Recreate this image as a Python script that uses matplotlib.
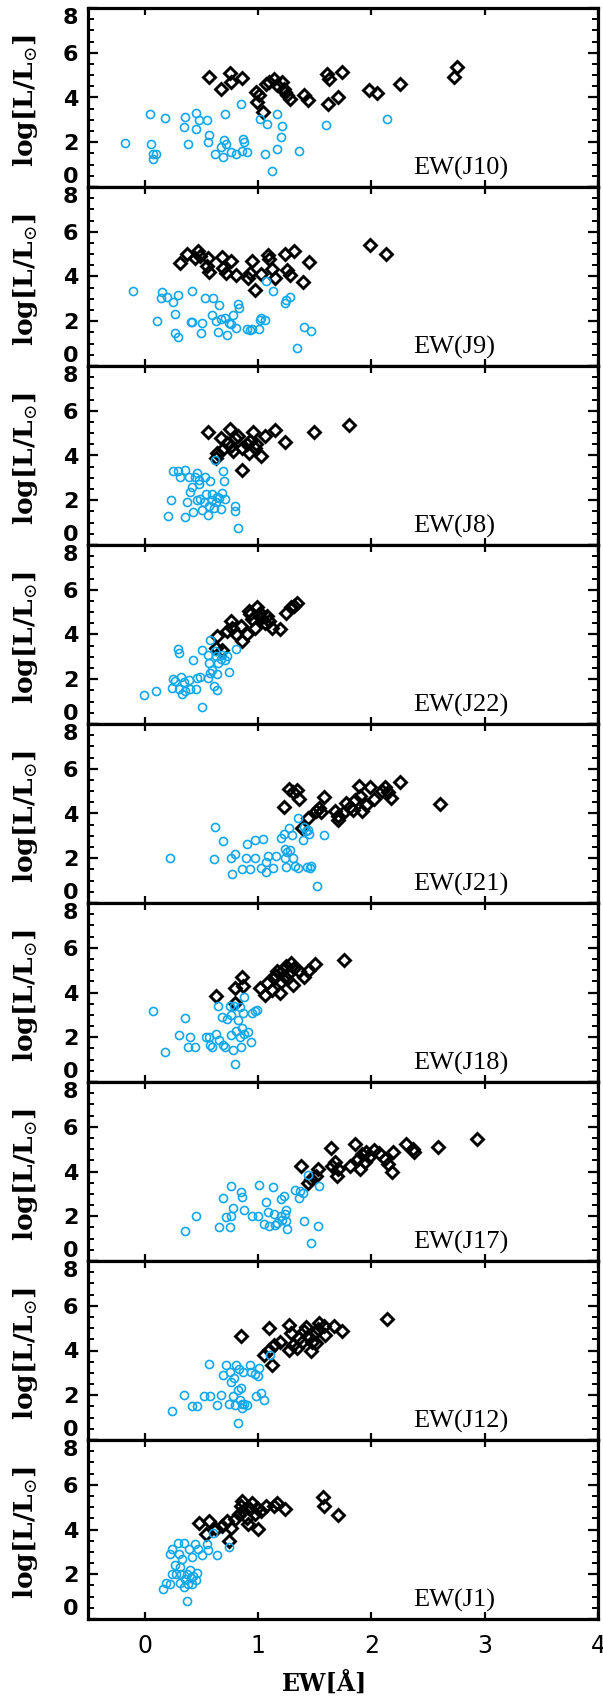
import matplotlib
matplotlib.use("Agg")
import matplotlib.pyplot as plt
from matplotlib.ticker import AutoMinorLocator

plt.rcParams["mathtext.fontset"] = "dejavuserif"

# panel labels, top to bottom
panel_labels = ["EW(J10)", "EW(J9)", "EW(J8)", "EW(J22)", "EW(J21)",
                "EW(J18)", "EW(J17)", "EW(J12)", "EW(J1)"]

# --- J10 ---
j10_hi_x = [0.57, 0.67, 0.75, 0.76, 0.86, 0.98, 0.99, 1.01, 1.04, 1.07, 1.10, 1.14, 1.17, 1.21, 1.23,
            1.24, 1.26, 1.28, 1.41, 1.44, 1.61, 1.63, 1.62, 1.71, 1.74, 1.98, 2.05, 2.25, 2.73, 2.76]
j10_hi_y = [4.92, 4.40, 5.11, 4.69, 4.87, 4.25, 3.80, 4.10, 3.35, 4.62, 4.69, 4.81, 4.55, 4.69, 4.40,
            4.25, 4.10, 3.95, 4.10, 3.87, 5.07, 4.84, 3.73, 4.02, 5.14, 4.32, 4.22, 4.62, 4.92, 5.37]
j10_lo_x = [-0.17, 0.05, 0.06, 0.07, 0.07, 0.10, 0.18, 0.36, 0.35, 0.38, 0.45, 0.45, 0.48, 0.55, 0.57,
            0.56, 0.62, 0.67, 0.69, 0.70, 0.71, 0.72, 0.76, 0.81, 0.85, 0.86, 0.87, 0.88, 0.90, 1.02,
            1.06, 1.08, 1.12, 1.17, 1.17, 1.20, 1.21, 1.36, 1.60, 2.14]
j10_lo_y = [1.98, 3.25, 1.94, 1.49, 1.27, 1.46, 3.08, 3.13, 2.68, 1.94, 3.32, 2.58, 2.98, 2.98, 2.31,
            2.01, 1.49, 1.79, 1.34, 2.09, 3.28, 1.94, 1.56, 1.49, 3.73, 1.59, 2.13, 2.01, 1.56, 3.03,
            1.49, 2.83, 0.72, 3.28, 1.71, 2.24, 2.73, 1.61, 2.76, 3.06]

# --- J9 ---
j9_hi_x = [0.31, 0.37, 0.44, 0.47, 0.49, 0.56, 0.55, 0.57, 0.68, 0.69, 0.72, 0.76, 0.81, 0.91, 0.93,
           0.95, 0.97, 1.03, 1.09, 1.10, 1.12, 1.15, 1.24, 1.26, 1.28, 1.32, 1.40, 1.45, 1.99, 2.13]
j9_hi_y = [4.62, 4.99, 4.84, 5.14, 4.92, 4.81, 4.47, 4.22, 4.87, 4.37, 4.17, 4.69, 4.05, 3.95, 4.17,
           4.69, 3.38, 4.10, 4.96, 4.77, 4.32, 3.95, 5.02, 4.28, 4.05, 5.14, 3.77, 4.65, 5.41, 5.02]
j9_lo_x = [-0.10, 0.11, 0.15, 0.14, 0.20, 0.25, 0.27, 0.29, 0.27, 0.29, 0.41, 0.42, 0.42, 0.50, 0.51,
           0.53, 0.59, 0.60, 0.63, 0.65, 0.66, 0.67, 0.71, 0.73, 0.74, 0.76, 0.78, 0.81, 0.82, 0.83,
           0.90, 0.93, 0.95, 1.01, 1.02, 1.03, 1.06, 1.07, 1.13, 1.24, 1.25, 1.28, 1.34, 1.41, 1.47]
j9_lo_y = [3.35, 2.01, 3.31, 3.03, 3.10, 2.88, 2.34, 3.17, 1.49, 1.30, 1.98, 3.35, 1.98, 1.49, 1.94,
           3.03, 2.27, 3.06, 2.01, 1.54, 2.73, 2.12, 2.16, 1.39, 1.94, 1.86, 2.27, 1.68, 2.79, 2.61,
           1.64, 1.61, 1.64, 1.64, 2.04, 2.16, 2.04, 3.80, 3.35, 2.83, 2.94, 3.08, 0.79, 1.76, 1.56]

# --- J8 ---
j8_hi_x = [0.56, 0.63, 0.64, 0.67, 0.69, 0.73, 0.75, 0.76, 0.78, 0.80, 0.82, 0.86, 0.86, 0.90, 0.92,
           0.93, 0.96, 0.97, 0.98, 1.03, 1.06, 1.15, 1.24, 1.49, 1.80]
j8_hi_y = [5.03, 3.89, 4.12, 4.77, 4.27, 4.57, 5.18, 4.42, 4.20, 4.80, 4.88, 3.37, 4.35, 4.50, 4.12,
           4.65, 5.03, 4.35, 4.50, 3.97, 4.88, 5.15, 4.62, 5.03, 5.37]
j8_lo_x = [0.21, 0.23, 0.25, 0.29, 0.31, 0.36, 0.36, 0.37, 0.39, 0.40, 0.42, 0.43, 0.44, 0.46, 0.46,
           0.48, 0.48, 0.49, 0.51, 0.52, 0.53, 0.54, 0.56, 0.57, 0.58, 0.59, 0.59, 0.61, 0.62, 0.63,
           0.64, 0.66, 0.67, 0.68, 0.69, 0.70, 0.71, 0.80, 0.80, 0.82]
j8_lo_y = [1.28, 2.01, 3.32, 3.32, 3.06, 1.25, 3.37, 1.93, 3.02, 2.35, 2.61, 1.48, 3.06, 2.01, 3.22,
           2.72, 2.91, 2.05, 1.55, 1.93, 3.06, 2.26, 1.33, 1.75, 2.84, 2.01, 2.26, 1.66, 3.79, 1.93,
           2.16, 2.08, 1.63, 2.31, 3.32, 2.84, 2.05, 1.75, 1.52, 0.75]

# --- J22 ---
j22_hi_x = [0.63, 0.64, 0.68, 0.73, 0.76, 0.77, 0.81, 0.85, 0.86, 0.90, 0.92, 0.93, 0.95, 0.97, 0.99,
            1.02, 1.03, 1.06, 1.08, 1.10, 1.12, 1.19, 1.25, 1.29, 1.32, 1.34]
j22_hi_y = [3.40, 3.92, 3.32, 4.15, 4.60, 4.27, 4.03, 4.38, 3.70, 4.00, 5.06, 4.91, 4.68, 4.30, 5.21,
            4.98, 4.75, 4.53, 4.83, 4.60, 4.27, 4.23, 4.98, 5.21, 5.28, 5.43]
j22_lo_x = [-0.01, 0.10, 0.24, 0.25, 0.27, 0.29, 0.30, 0.30, 0.32, 0.33, 0.35, 0.36, 0.39, 0.40, 0.43,
            0.45, 0.46, 0.49, 0.51, 0.51, 0.56, 0.56, 0.57, 0.58, 0.58, 0.59, 0.61, 0.63, 0.64, 0.64,
            0.65, 0.67, 0.68, 0.71, 0.73, 0.74, 0.81, 0.62]
j22_lo_y = [1.28, 1.48, 1.63, 2.01, 1.92, 3.37, 3.17, 1.58, 2.11, 1.36, 1.89, 1.48, 1.96, 1.58, 2.87,
            1.58, 2.04, 2.11, 0.75, 3.32, 3.09, 2.04, 2.72, 2.26, 3.77, 2.42, 1.71, 3.02, 1.51, 2.23,
            2.72, 2.91, 3.09, 2.87, 3.02, 2.34, 3.37, 3.25]

# --- J21 ---
j21_hi_x = [1.23, 1.27, 1.31, 1.36, 1.34, 1.39, 1.44, 1.51, 1.54, 1.56, 1.58, 1.68, 1.71, 1.71, 1.75,
            1.78, 1.81, 1.84, 1.86, 1.89, 1.90, 1.92, 1.95, 1.99, 2.02, 2.09, 2.12, 2.15, 2.17, 2.25, 2.61]
j21_hi_y = [4.29, 5.09, 4.94, 4.64, 5.05, 3.36, 3.78, 4.11, 4.26, 4.08, 4.74, 4.11, 3.89, 3.73, 4.04,
            4.49, 4.29, 4.14, 4.59, 5.24, 4.79, 4.11, 4.38, 5.17, 4.64, 5.02, 5.17, 4.94, 4.71, 5.42, 4.41]
j21_lo_x = [0.22, 0.61, 0.62, 0.69, 0.76, 0.77, 0.80, 0.86, 0.89, 0.90, 0.93, 0.97, 0.97, 1.03, 1.04,
            1.07, 1.07, 1.09, 1.13, 1.16, 1.20, 1.23, 1.24, 1.24, 1.25, 1.26, 1.27, 1.28, 1.30, 1.31,
            1.33, 1.35, 1.35, 1.40, 1.41, 1.42, 1.44, 1.45, 1.46, 1.47, 1.52, 1.58, 1.43]
j21_lo_y = [2.03, 1.97, 3.39, 2.76, 2.00, 1.30, 2.18, 1.52, 2.00, 2.64, 1.52, 2.00, 2.83, 1.58, 2.88,
            1.85, 1.40, 2.12, 1.55, 2.08, 2.91, 3.09, 2.00, 2.42, 1.63, 2.30, 3.36, 2.38, 3.06, 2.03,
            1.67, 3.81, 1.55, 2.83, 3.39, 3.21, 3.28, 3.09, 1.55, 1.67, 0.77, 3.03, 1.63]

# --- J18 ---
j18_hi_x = [0.63, 0.80, 0.80, 0.86, 0.87, 1.02, 1.06, 1.08, 1.12, 1.14, 1.15, 1.17, 1.19, 1.20, 1.22,
            1.24, 1.25, 1.27, 1.29, 1.31, 1.32, 1.36, 1.41, 1.44, 1.50, 1.76]
j18_hi_y = [3.84, 3.51, 4.19, 4.71, 4.29, 4.19, 3.89, 4.41, 4.11, 4.64, 4.79, 4.94, 3.96, 4.49, 5.02,
            4.71, 5.17, 4.86, 5.32, 4.34, 5.09, 4.94, 4.71, 4.98, 5.27, 5.44]
j18_lo_x = [0.07, 0.18, 0.30, 0.36, 0.38, 0.40, 0.44, 0.54, 0.57, 0.58, 0.59, 0.63, 0.65, 0.66, 0.68,
            0.69, 0.71, 0.73, 0.75, 0.76, 0.76, 0.78, 0.79, 0.80, 0.81, 0.82, 0.84, 0.84, 0.85, 0.86,
            0.87, 0.88, 0.88, 0.91, 0.94, 0.95, 0.97, 0.99]
j18_lo_y = [3.16, 1.36, 2.08, 2.86, 1.55, 2.03, 1.55, 2.00, 2.03, 1.67, 1.55, 2.15, 3.39, 1.88, 2.91,
            1.67, 1.55, 2.83, 3.39, 2.12, 2.98, 1.43, 3.39, 0.80, 2.30, 2.79, 3.36, 2.00, 1.58, 2.41,
            3.09, 3.81, 2.15, 2.23, 1.81, 3.09, 3.18, 3.24]

# --- J17 ---
j17_hi_x = [1.38, 1.44, 1.47, 1.53, 1.51, 1.64, 1.65, 1.68, 1.70, 1.71, 1.81, 1.86, 1.88, 1.90, 1.92,
            1.94, 1.95, 1.98, 2.02, 2.07, 2.12, 2.15, 2.18, 2.19, 2.31, 2.37, 2.38, 2.59, 2.93]
j17_hi_y = [4.26, 3.50, 3.65, 4.11, 3.80, 5.04, 4.26, 4.41, 3.80, 4.11, 4.26, 5.23, 4.56, 4.11, 4.78,
            4.41, 4.86, 4.66, 4.98, 4.81, 4.56, 4.33, 4.00, 4.86, 5.23, 5.01, 4.86, 5.08, 5.46]
j17_lo_x = [0.36, 0.45, 0.66, 0.69, 0.72, 0.76, 0.75, 0.76, 0.78, 0.85, 0.86, 0.88, 0.95, 1.00, 1.01,
            1.05, 1.07, 1.09, 1.10, 1.13, 1.14, 1.15, 1.17, 1.20, 1.20, 1.21, 1.23, 1.24, 1.25, 1.25,
            1.26, 1.33, 1.36, 1.37, 1.40, 1.41, 1.44, 1.47, 1.53, 1.54]
j17_lo_y = [1.32, 2.03, 1.52, 2.83, 1.95, 2.00, 1.52, 3.35, 2.38, 3.10, 2.87, 2.30, 2.03, 2.00, 3.40,
            1.65, 2.65, 2.20, 1.55, 3.31, 2.11, 1.59, 1.70, 2.75, 2.00, 1.85, 2.90, 2.08, 1.77, 2.30,
            1.43, 3.16, 2.83, 3.13, 3.05, 1.77, 3.83, 0.80, 1.58, 3.35]

# --- J12 ---
j12_hi_x = [0.85, 1.05, 1.10, 1.12, 1.10, 1.14, 1.19, 1.27, 1.27, 1.29, 1.31, 1.34, 1.36, 1.39, 1.41,
            1.42, 1.44, 1.47, 1.48, 1.50, 1.53, 1.54, 1.58, 1.59, 1.67, 1.74, 2.14, 1.51]
j12_hi_y = [4.63, 3.81, 5.00, 3.36, 4.03, 4.25, 4.40, 5.15, 4.03, 4.78, 4.25, 4.13, 4.55, 4.40, 4.85,
            5.03, 4.63, 3.96, 4.40, 4.78, 4.97, 5.23, 5.08, 4.70, 5.08, 4.88, 5.42, 4.33]
j12_lo_x = [0.24, 0.35, 0.42, 0.46, 0.52, 0.58, 0.57, 0.64, 0.67, 0.69, 0.72, 0.74, 0.75, 0.76, 0.78,
            0.79, 0.80, 0.81, 0.82, 0.82, 0.83, 0.84, 0.85, 0.86, 0.86, 0.87, 0.88, 0.90, 0.93, 0.94,
            0.97, 0.98, 1.00, 1.01, 1.03, 1.05, 1.11]
j12_lo_y = [1.30, 2.01, 1.51, 1.51, 1.98, 1.98, 3.39, 1.58, 2.01, 2.91, 3.33, 1.63, 3.06, 2.61, 1.98,
            2.76, 1.56, 3.33, 0.76, 2.23, 3.18, 1.78, 2.31, 1.41, 1.60, 3.03, 1.63, 1.56, 3.36, 3.06,
            2.94, 1.98, 2.84, 3.21, 2.08, 1.78, 3.81]

# --- J1 ---
j1_hi_x = [0.48, 0.54, 0.57, 0.63, 0.68, 0.73, 0.74, 0.76, 0.80, 0.83, 0.85, 0.86, 0.87, 0.90, 0.91,
           0.93, 0.95, 0.97, 0.99, 1.00, 1.03, 1.07, 1.14, 1.17, 1.24, 1.57, 1.58, 1.71]
j1_hi_y = [4.31, 3.79, 4.38, 4.01, 4.16, 4.38, 3.49, 4.08, 4.46, 4.68, 5.05, 5.28, 4.83, 4.53, 4.23,
           4.90, 5.20, 4.68, 4.98, 4.01, 4.83, 5.05, 5.05, 5.20, 4.90, 5.45, 5.05, 4.63]
j1_lo_x = [0.16, 0.19, 0.22, 0.22, 0.24, 0.24, 0.27, 0.28, 0.29, 0.30, 0.31, 0.31, 0.32, 0.33, 0.35,
           0.35, 0.36, 0.37, 0.37, 0.38, 0.39, 0.40, 0.41, 0.42, 0.42, 0.43, 0.44, 0.45, 0.46, 0.47,
           0.51, 0.55, 0.56, 0.60, 0.64, 0.74]
j1_lo_y = [1.36, 1.59, 1.55, 2.92, 2.03, 3.11, 2.41, 2.00, 3.38, 2.89, 2.32, 1.62, 2.00, 2.67, 3.41,
           1.43, 1.77, 0.80, 2.03, 1.55, 3.11, 2.18, 1.85, 2.77, 1.58, 1.92, 3.34, 1.73, 2.07, 3.11,
           2.86, 3.37, 3.07, 3.83, 2.86, 3.22]

panels = [
    (j10_lo_x, j10_lo_y, j10_hi_x, j10_hi_y),
    (j9_lo_x, j9_lo_y, j9_hi_x, j9_hi_y),
    (j8_lo_x, j8_lo_y, j8_hi_x, j8_hi_y),
    (j22_lo_x, j22_lo_y, j22_hi_x, j22_hi_y),
    (j21_lo_x, j21_lo_y, j21_hi_x, j21_hi_y),
    (j18_lo_x, j18_lo_y, j18_hi_x, j18_hi_y),
    (j17_lo_x, j17_lo_y, j17_hi_x, j17_hi_y),
    (j12_lo_x, j12_lo_y, j12_hi_x, j12_hi_y),
    (j1_lo_x, j1_lo_y, j1_hi_x, j1_hi_y),
]

W, H = 603, 1701
fig = plt.figure(figsize=(W / 100, H / 100), dpi=100)

left, right = 88, 598
top0, ph = 8, 179
cyan = "#14a8ea"

for i, (lx, ly, hx, hy) in enumerate(panels):
    top = top0 + i * ph
    ax = fig.add_axes([left / W, 1 - (top + ph) / H, (right - left) / W, ph / H])
    ax.plot(hx, hy, "D", ms=6.6, mfc="none", mec="black", mew=2.1, ls="none")
    ax.plot(lx, ly, "o", ms=5.8, mfc="none", mec=cyan, mew=1.2, ls="none")

    ax.set_xlim(-0.5, 4)
    ax.set_ylim(0, 8)
    ax.set_xticks([0, 1, 2, 3, 4])
    ax.set_yticks([0, 2, 4, 6, 8])
    ax.set_yticklabels(["0", "2", "4", "6", "8"])
    ax.yaxis.set_minor_locator(AutoMinorLocator(4))
    ax.tick_params(axis="both", which="both", direction="in", top=True, right=True)
    ax.tick_params(axis="y", which="major", length=7, width=1.6, pad=7, labelsize=16)
    ax.tick_params(axis="y", which="minor", length=4, width=1.4)
    ax.tick_params(axis="x", which="major", length=5, width=1.6, pad=11, labelsize=17)
    for lbl in ax.get_yticklabels():
        lbl.set_fontweight("bold")
        if lbl.get_text() == "8":
            lbl.set_va("top")
        elif lbl.get_text() == "0":
            lbl.set_va("bottom")
    for sp in ax.spines.values():
        sp.set_linewidth(2.3)
    if i < len(panels) - 1:
        ax.tick_params(axis="x", labelbottom=False)

    ax.text(2.37, 0.85, panel_labels[i], ha="left", va="center",
            family="Liberation Serif", fontsize=19)

    fig.text(25 / W, 1 - (top + ph / 2 + 3) / H, r"log[L/L$_{\odot}$]", rotation=90,
             ha="center", va="center", family="DejaVu Serif", fontweight="bold", fontsize=19)

fig.text(325 / W, 1 - 1684 / H, "EW[Å]", ha="center", va="center",
         family="DejaVu Serif", fontweight="bold", fontsize=17)

fig.savefig("out.png", dpi=100)
